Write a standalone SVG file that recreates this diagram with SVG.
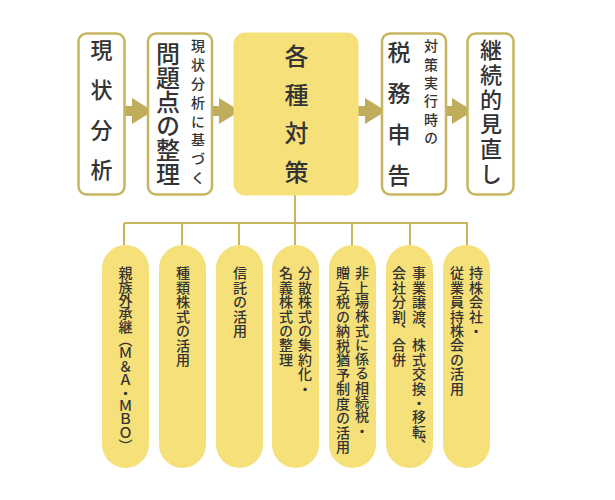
<svg xmlns="http://www.w3.org/2000/svg" width="615" height="500" viewBox="0 0 615 500">
<style>
.box{fill:#fff;stroke:#c8b560;stroke-width:2.5}
.fill{fill:#f6e07a}
.arr{fill:#bfad5c}
.ln{stroke:#c8b560;stroke-width:2;fill:none}
text{font-family:"Noto Sans CJK JP","Noto Sans CJK SC",sans-serif;fill:#333;writing-mode:vertical-rl;font-weight:500}
.big{font-size:22px}
.sm{font-size:14px}
.p{font-size:14px}
</style>
<rect width="615" height="500" fill="#fff"/>
<g id="connectors">
<path class="ln" d="M295,195V223M124,223H468M124,223V245M182,223V245M239,223V245M295,223V245M352,223V245M410,223V245M467,223V245"/>
<path class="arr" d="M125,106h7v-8l21,13l-21,13v-8h-7z"/>
<path class="arr" d="M212,106h7v-8l21,13l-21,13v-8h-7z"/>
<path class="arr" d="M358,106h7v-8l21,13l-21,13v-8h-7z"/>
<path class="arr" d="M445,106h7v-8l21,13l-21,13v-8h-7z"/>
</g>
<g id="n1"><rect class="box" x="78.5" y="33.5" width="46" height="161" rx="8"/>
<text class="big" x="101.5" y="39" style="letter-spacing:18px">現状分析</text></g>
<g id="n2"><rect class="box" x="148" y="33.5" width="64" height="161" rx="8"/>
<text x="168" y="42" style="font-size:24px">問題点の整理</text>
<text class="sm" x="198" y="39" style="letter-spacing:4.8px">現状分析に基づく</text></g>
<g id="n3"><rect class="fill" x="233.5" y="32.5" width="125" height="163" rx="12"/>
<text x="296.5" y="44" style="font-size:24px;letter-spacing:14.5px">各種対策</text></g>
<g id="n4"><rect class="box" x="382" y="33.5" width="64" height="161" rx="8"/>
<text x="399" y="41" style="font-size:23px;letter-spacing:18px">税務申告</text>
<text class="sm" x="431" y="39" style="letter-spacing:4.3px">対策実行時の</text></g>
<g id="n5"><rect class="box" x="467.5" y="33.5" width="46" height="161" rx="8"/>
<text class="big" x="491" y="39" style="letter-spacing:2.7px">継続的見直し</text></g>
<g id="p1"><rect class="fill" x="102" y="245" width="47" height="223" rx="23.5"/>
<text class="p" x="125.5" y="266" style="letter-spacing:-0.7px">親族外承継（Ｍ＆Ａ・ＭＢＯ）</text></g>
<g id="p2"><rect class="fill" x="159" y="245" width="47" height="223" rx="23.5"/>
<text class="p" x="183" y="266" style="letter-spacing:0.5px">種類株式の活用</text></g>
<g id="p3"><rect class="fill" x="216" y="245" width="47" height="223" rx="23.5"/>
<text class="p" x="240" y="266" style="letter-spacing:0.5px">信託の活用</text></g>
<g id="p4"><rect class="fill" x="272" y="245" width="47" height="223" rx="23.5"/>
<text class="p" x="305" y="266" style="letter-spacing:0.4px">分散株式の集約化・</text>
<text class="p" x="286" y="266" style="letter-spacing:0.4px">名義株式の整理</text></g>
<g id="p5"><rect class="fill" x="329" y="245" width="47" height="223" rx="23.5"/>
<text class="p" x="362" y="266" style="letter-spacing:0.3px">非上場株式に係る相続税・</text>
<text class="p" x="343" y="266" style="letter-spacing:0.5px">贈与税の納税猶予制度の活用</text></g>
<g id="p6"><rect class="fill" x="386" y="245" width="47" height="223" rx="23.5"/>
<text class="p" x="419" y="266" style="letter-spacing:0.4px">事業譲渡、株式交換・移転、</text>
<text class="p" x="399" y="266" style="letter-spacing:0.4px">会社分割、合併</text></g>
<g id="p7"><rect class="fill" x="443" y="245" width="47" height="223" rx="23.5"/>
<text class="p" x="476" y="266" style="letter-spacing:0.4px">持株会社・</text>
<text class="p" x="457" y="266" style="letter-spacing:0.4px">従業員持株会の活用</text></g>
</svg>
